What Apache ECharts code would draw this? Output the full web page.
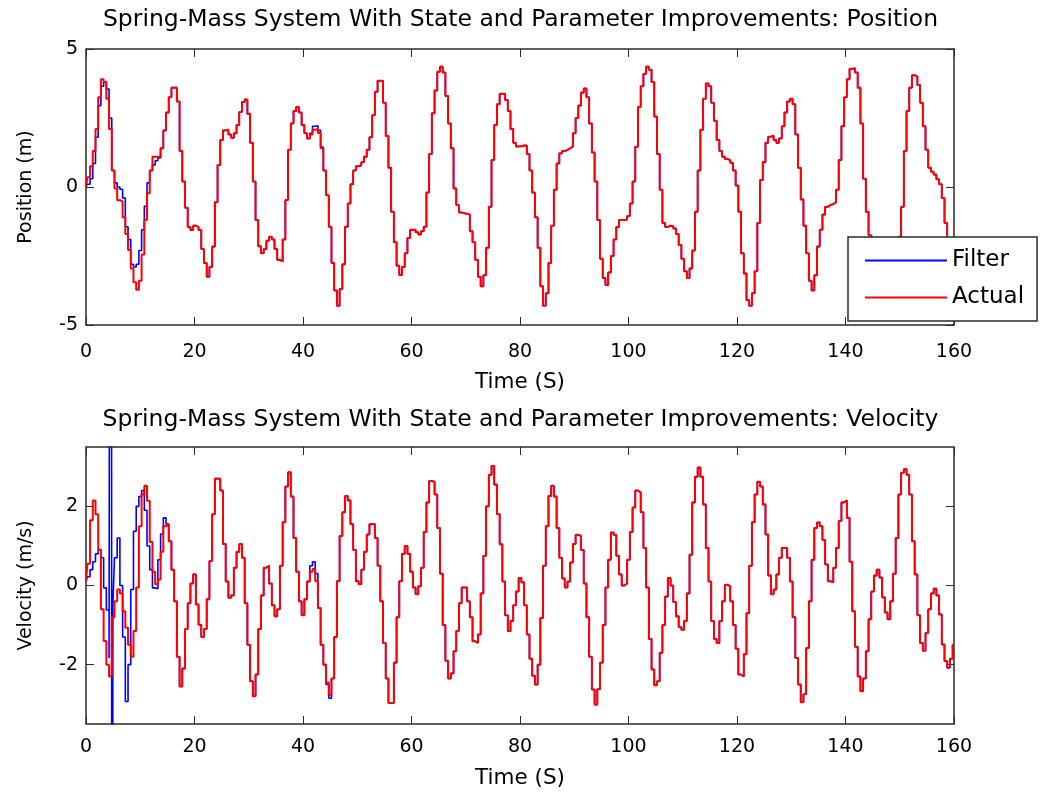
<!DOCTYPE html>
<html>
<head>
<meta charset="utf-8">
<script src="https://cdn.jsdelivr.net/npm/echarts@6/dist/echarts.min.js"></script>
<style>
html,body{margin:0;padding:0;background:#ffffff;}
#chart{width:1041px;height:796px;}
</style>
</head>
<body>
<div id="chart"></div>
<script>
// ---------- data ----------
const SAMPLE_STEP = 0.5;            // seconds between samples
const timeTicks = [0, 20, 40, 60, 80, 100, 120, 140, 160];
const posTicks = [-5, 0, 5];
const velTicks = [-2, 0, 2];
const legendNames = ['Filter', 'Actual'];
const titlePos = 'Spring-Mass System With State and Parameter Improvements: Position';
const titleVel = 'Spring-Mass System With State and Parameter Improvements: Velocity';

// Actual position (m), one value every 0.5 s from 0 to 160 s
const posActual = [
  0.00, 0.35, 0.75, 1.30, 2.10, 3.25, 3.90, 3.80, 3.20, 2.10,
  0.60,-0.05,-0.48,-0.52,-1.10,-1.70,-2.28,-2.95,-3.45,-3.72,
 -3.40,-2.45,-1.20,-0.23, 0.60, 1.10, 1.10, 1.10, 1.40, 2.05,
  2.70, 3.25, 3.60, 3.60, 3.10, 1.30, 0.20,-0.75,-1.45,-1.56,
 -1.40,-1.45,-1.56,-2.25,-2.75,-3.25,-2.90,-2.16,-0.55, 0.80,
  1.70, 2.05, 2.08, 1.90, 1.78, 1.95, 2.25, 2.72, 3.08, 3.17,
  2.65, 1.60, 0.20,-1.20,-2.15,-2.40,-2.25,-1.95,-1.80,-1.90,
 -2.25,-2.64,-2.70,-1.90,-0.47, 1.35, 2.30, 2.75, 2.90, 2.70,
  2.25, 1.95, 1.76, 1.90, 2.07, 2.10, 1.96, 1.40, 0.60,-0.30,
 -1.44,-2.75,-3.75,-4.30,-3.70,-2.80,-1.44,-0.60, 0.10, 0.60,
  0.75, 0.78, 0.90, 1.10, 1.35, 1.80, 2.60, 3.45, 3.85, 3.85,
  3.05, 1.85, 0.70,-0.90,-2.00,-2.85,-3.19,-2.90,-2.40,-1.85,
 -1.55,-1.55,-1.64,-1.72,-1.60,-1.44,-0.20, 1.20, 2.67, 3.50,
  4.18, 4.36, 4.15, 3.30, 2.30, 1.40,-0.05,-0.65,-0.92,-0.95,
 -0.97,-1.00,-1.60,-2.00,-2.64,-3.25,-3.60,-3.20,-2.20,-0.72,
  0.98, 2.25, 3.00, 3.38, 3.38, 3.15, 2.75, 2.10, 1.60, 1.47,
  1.48, 1.50, 1.50, 1.20, 0.60,-0.20,-1.10,-2.20,-3.60,-4.30,
 -3.85,-2.75,-1.40,-0.10, 0.85, 1.22, 1.30, 1.34, 1.40, 1.46,
  1.95, 2.50, 2.95, 3.42, 3.57, 3.25, 2.30, 1.25, 0.20,-1.20,
 -2.60,-3.30,-3.55,-3.10,-2.50,-1.90,-1.45,-1.20,-1.20,-1.18,
 -1.05,-0.60, 0.20, 1.46, 2.90, 3.65, 4.10, 4.36, 4.25, 3.80,
  2.55, 1.20,-0.10,-1.30,-1.45,-1.40,-1.42,-1.50,-1.70,-2.10,
 -2.60,-3.05,-3.30,-2.95,-2.30,-0.90, 0.60, 2.07, 3.20, 3.75,
  3.65, 3.05, 2.40, 1.70, 1.30, 1.10, 1.02, 0.97, 0.88, 0.60,
  0.05,-0.90,-2.40,-3.13,-4.10,-4.30,-3.85,-3.05,-1.30, 0.25,
  0.90, 1.60, 1.82, 1.86, 1.70, 1.60, 1.76, 2.20, 2.70, 3.10,
  3.20, 3.00, 1.90, 0.70,-0.45,-1.40,-2.40,-3.40,-3.75,-3.20,
 -2.16,-1.55,-1.00,-0.72,-0.65,-0.62,-0.55,-0.10, 0.98, 2.20,
  3.25, 3.90, 4.28, 4.30, 4.15, 3.60, 2.30, 0.30,-0.90,-1.75,
 -2.30,-2.50,-2.40,-2.00,-1.85,-2.00,-2.40,-2.60,-2.50,-2.20,
 -1.80,-0.72, 1.30, 2.75, 3.60, 4.05, 4.00, 3.70, 3.05, 2.20,
  1.35, 0.70, 0.55, 0.45, 0.28, 0.10,-0.40,-1.30,-1.90,-2.10,
 -2.20
];

// Filter position estimate (m), every 0.5 s
const posFilter = [
  0.00, 0.10, 0.30, 0.85, 1.80, 2.95, 3.65, 3.80, 3.55, 2.50,
  0.60, 0.15, 0.00,-0.08,-0.40,-1.44,-1.90,-2.80,-2.90,-2.80,
 -2.30,-1.55,-0.70, 0.15, 0.60, 0.80, 0.95, 1.05, 1.40, 2.05,
  2.70, 3.25, 3.60, 3.60, 3.10, 1.30, 0.20,-0.75,-1.45,-1.56,
 -1.40,-1.45,-1.56,-2.25,-2.75,-3.25,-2.90,-2.16,-0.55, 0.80,
  1.70, 2.05, 2.08, 1.90, 1.78, 1.95, 2.25, 2.72, 3.08, 3.17,
  2.65, 1.60, 0.20,-1.20,-2.15,-2.40,-2.25,-1.95,-1.80,-1.90,
 -2.25,-2.64,-2.70,-1.90,-0.47, 1.35, 2.30, 2.75, 2.90, 2.70,
  2.25, 1.95, 1.76, 1.95, 2.20, 2.22, 2.05, 1.45, 0.60,-0.30,
 -1.44,-2.75,-3.75,-4.30,-3.70,-2.80,-1.44,-0.60, 0.10, 0.60,
  0.75, 0.78, 0.90, 1.10, 1.35, 1.80, 2.60, 3.45, 3.85, 3.85,
  3.05, 1.85, 0.70,-0.90,-2.00,-2.85,-3.19,-2.90,-2.40,-1.85,
 -1.55,-1.55,-1.64,-1.72,-1.60,-1.44,-0.20, 1.20, 2.67, 3.50,
  4.18, 4.36, 4.15, 3.30, 2.30, 1.40,-0.05,-0.65,-0.92,-0.95,
 -0.97,-1.00,-1.60,-2.00,-2.64,-3.25,-3.60,-3.20,-2.20,-0.72,
  0.98, 2.25, 3.00, 3.38, 3.38, 3.15, 2.75, 2.10, 1.60, 1.47,
  1.48, 1.50, 1.50, 1.20, 0.60,-0.20,-1.10,-2.20,-3.60,-4.30,
 -3.85,-2.75,-1.40,-0.10, 0.85, 1.22, 1.30, 1.34, 1.40, 1.46,
  1.95, 2.50, 2.95, 3.42, 3.57, 3.25, 2.30, 1.25, 0.20,-1.20,
 -2.60,-3.30,-3.55,-3.10,-2.50,-1.90,-1.45,-1.20,-1.20,-1.18,
 -1.05,-0.60, 0.20, 1.46, 2.90, 3.65, 4.10, 4.36, 4.25, 3.80,
  2.55, 1.20,-0.10,-1.30,-1.45,-1.40,-1.42,-1.50,-1.70,-2.10,
 -2.60,-3.05,-3.30,-2.95,-2.30,-0.90, 0.60, 2.07, 3.20, 3.75,
  3.65, 3.05, 2.40, 1.70, 1.30, 1.10, 1.02, 0.97, 0.88, 0.60,
  0.05,-0.90,-2.40,-3.13,-4.10,-4.30,-3.85,-3.05,-1.30, 0.25,
  0.90, 1.60, 1.82, 1.86, 1.70, 1.60, 1.76, 2.20, 2.70, 3.10,
  3.20, 3.00, 1.90, 0.70,-0.45,-1.40,-2.40,-3.40,-3.75,-3.20,
 -2.16,-1.55,-1.00,-0.72,-0.65,-0.62,-0.55,-0.10, 0.98, 2.20,
  3.25, 3.90, 4.28, 4.30, 4.15, 3.60, 2.30, 0.30,-0.90,-1.75,
 -2.30,-2.50,-2.40,-2.00,-1.85,-2.00,-2.40,-2.60,-2.50,-2.20,
 -1.80,-0.72, 1.30, 2.75, 3.60, 4.05, 4.00, 3.70, 3.05, 2.20,
  1.35, 0.70, 0.55, 0.45, 0.28, 0.10,-0.40,-1.30,-1.90,-2.10,
 -2.20
];

// Actual velocity (m/s), every 0.5 s
const velActual = [
  0.11, 0.55, 1.65, 2.15, 1.80, 0.90,-0.60,-1.40,-2.00,-2.30,
 -0.80,-0.40,-0.10,-0.20,-0.65,-1.07,-1.50,-1.80,-1.15,-0.05,
  1.50, 2.30, 2.52, 2.14, 1.10, 0.35, 0.03, 0.15, 0.85, 1.50,
  1.55, 1.12, 0.40,-0.40,-1.80,-2.55,-2.10,-1.10,-0.45, 0.05,
  0.28,-0.48,-0.99,-1.30,-1.10,-0.35, 0.62, 1.80, 2.70, 2.70,
  2.40, 1.05, 0.10,-0.31,-0.25, 0.45, 0.85, 1.05, 0.70,-0.45,
 -1.50,-2.42,-2.80,-2.25,-1.10,-0.25, 0.45, 0.50, 0.05,-0.50,
 -0.78,-0.60, 0.50, 1.60, 2.50, 2.86, 2.25, 1.20, 0.35,-0.40,
 -0.75,-0.35, 0.10, 0.35, 0.42, 0.11,-0.57,-1.50,-2.00,-2.45,
 -2.76,-2.35,-1.30, 0.11, 1.25, 1.85, 2.26, 2.15, 1.55, 0.90,
  0.11, 0.03, 0.40, 0.85, 1.29, 1.55, 1.55, 1.20, 0.50,-0.40,
 -1.45,-2.35,-2.97,-2.97,-1.95,-0.80, 0.11, 0.80, 1.00, 0.80,
  0.35,-0.05,-0.22,-0.02, 0.45, 1.35, 2.10, 2.64, 2.62, 2.30,
  1.45, 0.30,-1.00,-1.90,-2.35,-2.22,-1.66,-1.15,-0.45,-0.05,
 -0.05,-0.40,-0.80,-1.41,-1.45,-1.24,-0.20, 0.75, 2.00, 2.80,
  3.02, 2.55, 1.80, 1.04, 0.10,-0.75,-1.15,-0.90,-0.50,-0.15,
  0.19, 0.08,-0.50,-1.24,-1.85,-2.28,-2.50,-2.00,-0.82, 0.50,
  1.50, 2.26, 2.52, 2.25, 1.45, 0.70, 0.18,-0.05, 0.10, 0.58,
  1.05, 1.28, 1.25, 0.90, 0.05,-0.80,-1.80,-2.63,-3.01,-2.62,
 -1.95,-1.00,-0.05, 0.65, 1.34, 1.28, 0.75, 0.28, 0.00, 0.05,
  0.65, 1.35, 1.97, 2.40, 2.35, 1.85, 0.95,-0.05,-1.35,-2.12,
 -2.52,-2.42,-1.70,-1.00,-0.28, 0.19, 0.00,-0.42,-0.78,-1.05,
 -1.12,-0.90,-0.20, 0.78, 2.10, 2.75, 2.98, 2.75, 2.05, 0.95,
  0.10,-0.90,-1.35,-1.45,-0.90,-0.40, 0.02,-0.02,-0.40,-1.00,
 -1.60,-2.25,-2.30,-1.74,-0.70, 0.50, 1.60, 2.30, 2.62, 2.50,
  2.05, 1.29, 0.25,-0.22,-0.10, 0.28, 0.70, 0.95, 0.95, 0.70,
  0.10,-0.80,-1.83,-2.50,-2.95,-2.75,-1.58,-0.40, 0.65, 1.45,
  1.59, 1.50, 1.15, 0.53, 0.11, 0.08, 0.45, 0.95, 1.63, 2.10,
  2.15, 1.71, 0.60,-0.65,-1.55,-2.30,-2.67,-2.35,-1.66,-0.85,
 -0.15, 0.25, 0.40, 0.20,-0.30,-0.68,-0.85,-0.40, 0.30, 1.20,
  2.30, 2.85, 2.94, 2.80, 2.30, 1.12, 0.28,-0.75,-1.45,-1.65,
 -1.20,-0.60,-0.20,-0.08,-0.25,-0.73,-1.49,-1.91,-2.08,-1.85,
 -1.50
];

// Filter velocity estimate (m/s), every 0.5 s
const velFilter = [
  0.11, 0.22, 0.40, 0.60, 0.80, 0.91, 0.70,-0.06,-0.62,-1.83,
 -0.50, 0.70, 1.20, 0.00,-1.30,-2.93,-2.00,-0.10, 1.37, 2.00,
  2.25, 2.40, 1.90, 1.00, 0.40,-0.06,-0.08, 0.65, 1.30, 1.71,
  1.55, 1.12, 0.40,-0.40,-1.80,-2.55,-2.10,-1.10,-0.45, 0.05,
  0.28,-0.48,-0.99,-1.30,-1.10,-0.35, 0.62, 1.80, 2.70, 2.70,
  2.40, 1.05, 0.10,-0.31,-0.25, 0.45, 0.85, 1.05, 0.70,-0.45,
 -1.50,-2.42,-2.80,-2.25,-1.10,-0.25, 0.45, 0.50, 0.05,-0.50,
 -0.78,-0.60, 0.50, 1.60, 2.50, 2.86, 2.25, 1.20, 0.35,-0.40,
 -0.75,-0.35, 0.10, 0.50, 0.60, 0.30,-0.57,-1.50,-2.00,-2.50,
 -2.85,-2.35,-1.30, 0.11, 1.25, 1.85, 2.26, 2.15, 1.55, 0.90,
  0.11, 0.03, 0.40, 0.85, 1.29, 1.55, 1.55, 1.20, 0.50,-0.40,
 -1.45,-2.35,-2.97,-2.97,-1.95,-0.80, 0.11, 0.80, 1.00, 0.80,
  0.35,-0.05,-0.22,-0.02, 0.45, 1.35, 2.10, 2.64, 2.62, 2.30,
  1.45, 0.30,-1.00,-1.90,-2.35,-2.22,-1.66,-1.15,-0.45,-0.05,
 -0.05,-0.40,-0.80,-1.41,-1.45,-1.24,-0.20, 0.75, 2.00, 2.80,
  3.02, 2.55, 1.80, 1.04, 0.10,-0.75,-1.15,-0.90,-0.50,-0.15,
  0.19, 0.08,-0.50,-1.24,-1.85,-2.28,-2.50,-2.00,-0.82, 0.50,
  1.50, 2.26, 2.52, 2.25, 1.45, 0.70, 0.18,-0.05, 0.10, 0.58,
  1.05, 1.28, 1.25, 0.90, 0.05,-0.80,-1.80,-2.63,-3.01,-2.62,
 -1.95,-1.00,-0.05, 0.65, 1.34, 1.28, 0.75, 0.28, 0.00, 0.05,
  0.65, 1.35, 1.97, 2.40, 2.35, 1.85, 0.95,-0.05,-1.35,-2.12,
 -2.52,-2.42,-1.70,-1.00,-0.28, 0.19, 0.00,-0.42,-0.78,-1.05,
 -1.12,-0.90,-0.20, 0.78, 2.10, 2.75, 2.98, 2.75, 2.05, 0.95,
  0.10,-0.90,-1.35,-1.45,-0.90,-0.40, 0.02,-0.02,-0.40,-1.00,
 -1.60,-2.25,-2.30,-1.74,-0.70, 0.50, 1.60, 2.30, 2.62, 2.50,
  2.05, 1.29, 0.25,-0.22,-0.10, 0.28, 0.70, 0.95, 0.95, 0.70,
  0.10,-0.80,-1.83,-2.50,-2.95,-2.75,-1.58,-0.40, 0.65, 1.45,
  1.59, 1.50, 1.15, 0.53, 0.11, 0.08, 0.45, 0.95, 1.63, 2.10,
  2.15, 1.71, 0.60,-0.65,-1.55,-2.30,-2.67,-2.35,-1.66,-0.85,
 -0.15, 0.25, 0.40, 0.20,-0.30,-0.68,-0.85,-0.40, 0.30, 1.20,
  2.30, 2.85, 2.94, 2.80, 2.30, 1.12, 0.28,-0.75,-1.45,-1.65,
 -1.20,-0.60,-0.20,-0.08,-0.25,-0.73,-1.49,-1.91,-2.08,-1.85,
 -1.50
];

// The filter's velocity spike near t = 4.8 s runs far off the plot (time s, value m/s)
const velFilterSpikeTime = [4.75, 4.9];
const velFilterSpikeValue = [40, -40];

// ---------- build ----------
function toPairs(values) {
  return values.map((v, i) => [i * SAMPLE_STEP, v]);
}
const velFilterData = toPairs(velFilter)
  .concat(velFilterSpikeTime.map((t, i) => [t, velFilterSpikeValue[i]]))
  .sort((a, b) => a[0] - b[0]);

const FONT = 'DejaVu Sans';
const INK = '#000000';
const FRAME = '#2b2b2b';
const BLUE = '#0000ff';
const RED = '#ff0000';

const chart = echarts.init(document.getElementById('chart'), null, { renderer: 'canvas' });

function xAxisPair(gridIndex, labelMargin, nameGap) {
  const common = {
    gridIndex, type: 'value', min: timeTicks[0], max: timeTicks[timeTicks.length - 1], interval: 20,
    splitLine: { show: false },
    axisLine: { show: false, onZero: false },
    axisTick: { show: true, inside: true, length: 8, lineStyle: { color: FRAME, width: 1 } }
  };
  return [
    Object.assign({}, common, {
      position: 'bottom',
      axisLabel: { show: true, margin: labelMargin, fontSize: 19, fontFamily: FONT, color: INK },
      name: 'Time (S)', nameLocation: 'middle', nameGap,
      nameTextStyle: { fontSize: 21.5, fontFamily: FONT, color: INK }
    }),
    Object.assign({}, common, { position: 'top', axisLabel: { show: false } })
  ];
}

function yAxisPair(gridIndex, min, max, ticks, name) {
  const common = {
    gridIndex, type: 'value', min, max,
    splitLine: { show: false },
    axisLine: { show: false, onZero: false },
    axisTick: { show: true, inside: true, length: 8, customValues: ticks, lineStyle: { color: FRAME, width: 1 } }
  };
  return [
    Object.assign({}, common, {
      position: 'left',
      axisLabel: { show: true, customValues: ticks, margin: 8, fontSize: 19, fontFamily: FONT, color: INK },
      name, nameLocation: 'middle', nameGap: 50, nameRotate: 90,
      nameTextStyle: { fontSize: 19, fontFamily: FONT, color: INK }
    }),
    Object.assign({}, common, { position: 'right', axisLabel: { show: false } })
  ];
}

function seriesLine(name, data, axisIdx, color, width) {
  return {
    name, type: 'line', data, step: 'middle',
    xAxisIndex: axisIdx, yAxisIndex: axisIdx,
    symbol: 'none', showSymbol: false, clip: true,
    lineStyle: { color, width }, itemStyle: { color },
    emphasis: { disabled: true }, animation: false
  };
}

const titleStyle = { fontSize: 23.5, fontWeight: 'normal', fontFamily: FONT, color: INK };

const option = {
  backgroundColor: '#ffffff',
  animation: false,
  title: [
    { text: titlePos, left: 'center', top: 8, padding: 0, textStyle: titleStyle },
    { text: titleVel, left: 'center', top: 408, padding: 0, textStyle: titleStyle }
  ],
  grid: [
    { left: 86, top: 49, width: 868, height: 276, show: true, borderColor: FRAME, borderWidth: 1.5, backgroundColor: 'transparent' },
    { left: 86, top: 447, width: 868, height: 277, show: true, borderColor: FRAME, borderWidth: 1.5, backgroundColor: 'transparent' }
  ],
  xAxis: [].concat(xAxisPair(0, 18, 46), xAxisPair(1, 14, 43)),
  yAxis: [].concat(
    yAxisPair(0, posTicks[0], posTicks[posTicks.length - 1], posTicks, 'Position (m)'),
    yAxisPair(1, -3.5, 3.5, velTicks, 'Velocity (m/s)')
  ),
  legend: {
    data: legendNames, orient: 'vertical', left: 848, top: 237,
    padding: [12, 13, 12, 17], itemWidth: 82, itemHeight: 2, itemGap: 14, icon: 'rect',
    backgroundColor: '#ffffff', borderColor: FRAME, borderWidth: 1.5, z: 10,
    textStyle: { fontSize: 23, fontFamily: FONT, color: INK }
  },
  series: [
    seriesLine('Filter', toPairs(posFilter), 0, BLUE, 1.6),
    seriesLine('Actual', toPairs(posActual), 0, RED, 2),
    seriesLine('Filter', velFilterData, 2, BLUE, 1.6),
    seriesLine('Actual', toPairs(velActual), 2, RED, 2)
  ]
};
chart.setOption(option);
</script>
</body>
</html>
